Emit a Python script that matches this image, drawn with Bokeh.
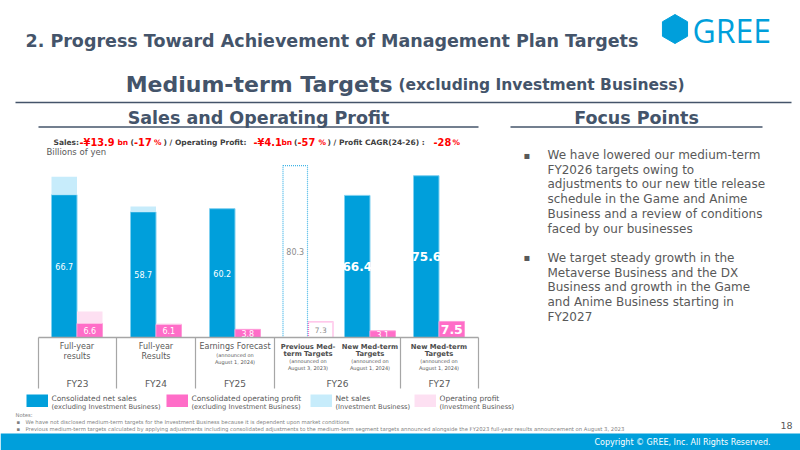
import math
from bokeh.plotting import figure
from bokeh.models import Range1d, Label, ColumnDataSource
from bokeh.embed import file_html
from bokeh.resources import INLINE
from bokeh.core.properties import value

# ---------------- data ----------------
slot_names = ["FY23 results", "FY24 results", "FY25 forecast",
              "FY26 previous target", "FY26 new target", "FY27 new target"]
net_sales = [66.7, 58.7, 60.2, 80.3, 66.4, 75.6]
op_profit = [6.6, 6.1, 3.8, 7.3, 3.1, 7.5]
inv_net_sales = [8.4, 2.5, 0.0, 0.0, 0.0, 0.0]
inv_op_profit = [5.5, 0.4, 0.0, 0.0, 0.0, 0.0]
fiscal_years = ["FY23", "FY24", "FY25", "FY26", "FY27"]
slot_title = [["Full-year", "results"], ["Full-year", "Results"], ["Earnings Forecast"],
              ["Previous Med-", "term Targets"], ["New Med-term", "Targets"], ["New Med-term", "Targets"]]
slot_note = [[], [], ["(announced on", "August 1, 2024)"], ["(announced on", "August 3, 2023)"],
             ["(announced on", "August 1, 2024)"], ["(announced on", "August 1, 2024)"]]
legend_items = [("Consolidated net sales", "(excluding Investment Business)"),
                ("Consolidated operating profit", "(excluding Investment Business)"),
                ("Net sales", "(Investment Business)"),
                ("Operating profit", "(Investment Business)")]
focus_points = [["We have lowered our medium-term", "FY2026 targets owing to",
                 "adjustments to our new title release", "schedule in the Game and Anime",
                 "Business and a review of conditions", "faced by our businesses"],
                ["We target steady growth in the", "Metaverse Business and the DX",
                 "Business and growth in the Game", "and Anime Business starting in", "FY2027"]]
notes = ["We have not disclosed medium-term targets for the Investment Business because it is dependent upon market conditions",
         "Previous medium-term targets calculated by applying adjustments including consolidated adjustments to the medium-term segment targets announced alongside the FY2023 full-year results announcement on August 3, 2023"]
subtitle_parts = [("Sales:", "d"), ("-¥13.9", "R"), ("bn", "r"), ("(", "d"), ("-17", "R"), ("%", "r"),
                  (") / Operating Profit:", "d"), ("-¥4.1", "R"), ("bn", "r"), ("(", "d"), ("-57", "R"),
                  ("%", "r"), (") / Profit CAGR(24-26) :", "d"), ("-28", "R"), ("%", "r")]

# ---------------- layout / styles ----------------
W, H = 800, 450
BASE = 337.0      # pixel row of zero
S = 2.14          # pixels per billion yen
def Y(py):
    return (BASE - py) / S

slot_x = [76.5, 155.5, 234.5, 307.5, 369.5, 438.5]
group_edges = [38, 116, 195, 274, 400, 478]
BW = 25.5
target_prev = 3
subtitle_x = [53, 79, 117, 130, 133.5, 153.5, 163, 253, 281, 293.5, 297, 318, 327, 433, 452]

BLUE = "#009fdb"
PINK = "#ff6dc8"
LBLUE = "#c7ecfb"
LPINK = "#fde0f2"
TITLE = "#44546a"
GRAY = "#595959"
FONT = "DejaVu Sans"

p = figure(width=W, height=H, x_range=Range1d(0, W), y_range=Range1d(Y(H), Y(0)),
           output_backend="svg", toolbar_location=None, min_border=0,
           x_axis_type=None, y_axis_type=None)
p.grid.visible = False
p.outline_line_color = None
p.background_fill_color = "white"
p.border_fill_color = "white"

def txt(x, py, s, size, color=GRAY, bold=False, align="left", baseline="middle", font=FONT):
    p.add_layout(Label(x=x, y=Y(py), text=s, text_font=font, text_font_size=f"{size}px",
                       text_color=color, text_font_style="bold" if bold else "normal",
                       text_align=align, text_baseline=baseline))

# ---------------- header ----------------
txt(25, 40, "2. Progress Toward Achievement of Management Plan Targets", 17.5, TITLE, bold=True)
p.scatter(x=[674.5], y=[Y(28.5)], marker="hex", size=29, angle=math.pi / 2,
          fill_color=BLUE, line_color=BLUE)
txt(692, 29.5, "GREE", 32, BLUE, font="Open Sans")
txt(392, 84, "Medium-term Targets", 22, TITLE, bold=True, align="right", baseline="alphabetic")
txt(398, 84, "(excluding Investment Business)", 15.5, TITLE, bold=True, baseline="alphabetic")
p.segment(x0=[15], x1=[791], y0=[Y(102)], y1=[Y(102)], line_color=TITLE, line_width=1.5)

txt(258, 117, "Sales and Operating Profit", 17.5, TITLE, bold=True, align="center")
txt(636, 117, "Focus Points", 17.5, TITLE, bold=True, align="center")
p.segment(x0=[38, 510], x1=[478, 762], y0=[Y(126.5)] * 2, y1=[Y(126.5)] * 2,
          line_color=TITLE, line_width=1.5)

# subtitle with mixed styles
for (s, kind), x in zip(subtitle_parts, subtitle_x):
    if kind == "d":
        txt(x, 141.5, s, 7.5, "#404040", bold=True, baseline="alphabetic")
    elif kind == "R":
        txt(x, 141.5, s, 9.8, "#ff0000", bold=True, baseline="alphabetic")
    else:
        txt(x, 141.5, s, 7.5, "#ff0000", bold=True, baseline="alphabetic")
txt(46, 151, "Billions of yen", 8.5, GRAY)

# ---------------- bars ----------------
solid = [i for i in range(len(net_sales)) if i != target_prev]
sx = [slot_x[i] - BW / 2 for i in range(len(net_sales))]
ox = [slot_x[i] + BW / 2 for i in range(len(net_sales))]

p.vbar(x=[sx[i] for i in solid], width=BW, bottom=0, top=[net_sales[i] for i in solid],
       fill_color=BLUE, line_color="#7fd0f0", line_width=1)
p.vbar(x=[sx[i] for i in solid], width=BW, bottom=[net_sales[i] for i in solid],
       top=[net_sales[i] + inv_net_sales[i] for i in solid],
       fill_color=LBLUE, line_color=None)
p.vbar(x=[ox[i] for i in solid], width=BW, bottom=0, top=[op_profit[i] for i in solid],
       fill_color=PINK, line_color="#ff9ad8", line_width=1)
p.vbar(x=[ox[i] for i in solid], width=BW, bottom=[op_profit[i] for i in solid],
       top=[op_profit[i] + inv_op_profit[i] for i in solid],
       fill_color=LPINK, line_color=None)
# previous targets: dotted outlines
p.vbar(x=[sx[target_prev]], width=BW - 1, bottom=0, top=[net_sales[target_prev]],
       fill_color="white", line_color="#3fb4e6", line_dash="1 1", line_width=1.2)
p.vbar(x=[ox[target_prev]], width=BW - 1, bottom=0, top=[op_profit[target_prev]],
       fill_color="white", line_color="#ff6dc8", line_dash="1 1", line_width=1.2)

# value labels
sales_style = [("8px", "normal", "white")] * 3 + [("8px", "normal", "#8c8c8c")] + [("12px", "bold", "white")] * 2
op_style = [("8px", "normal", "white")] * 3 + [("7.5px", "normal", "#8c8c8c"), ("8px", "normal", "white"), ("12.5px", "bold", "white")]
for i in range(len(net_sales)):
    fs, fw, fc = sales_style[i]
    p.text(x=[sx[i]], y=[net_sales[i] / 2], text=[f"{net_sales[i]:.1f}"], text_font=value(FONT),
           text_font_size=fs, text_font_style=fw, text_color=fc,
           text_align="center", text_baseline="middle")
    fs, fw, fc = op_style[i]
    p.text(x=[ox[i]], y=[op_profit[i] / 2], text=[f"{op_profit[i]:.1f}"], text_font=value(FONT),
           text_font_size=fs, text_font_style=fw, text_color=fc,
           text_align="center", text_baseline="middle")

# ---------------- category table ----------------
p.segment(x0=[group_edges[0]], x1=[group_edges[-1]], y0=[0], y1=[0], line_color="#a6a6a6", line_width=1.5)
p.segment(x0=group_edges, x1=group_edges, y0=[0] * len(group_edges), y1=[Y(388)] * len(group_edges),
          line_color="#a6a6a6", line_width=1.2)

for i, lines in enumerate(slot_title):
    bold = i >= 3
    step = 7.5 if bold else 10
    for j, s in enumerate(lines):
        txt(slot_x[i], 346 + j * step, s, 6.8 if bold else 8, "#4d4d4d" if bold else GRAY,
            bold=bold, align="center")
    start = 360 if bold else 354
    for j, s in enumerate(slot_note[i]):
        txt(slot_x[i], start + j * 7, s, 5, GRAY, align="center")

for k, fy in enumerate(fiscal_years):
    cx = (group_edges[k] + group_edges[k + 1]) / 2
    txt(cx, 383, fy, 9, GRAY, align="center")

# ---------------- legend ----------------
leg_box_x = [26, 166, 310, 414]
leg_colors = [BLUE, PINK, LBLUE, LPINK]
for (l1, l2), bx, c in zip(legend_items, leg_box_x, leg_colors):
    p.quad(left=[bx], right=[bx + 21.5], top=[Y(394)], bottom=[Y(406.5)], fill_color=c, line_color=None)
    txt(bx + 25, 397.5, l1, 7.5, GRAY)
    txt(bx + 25, 406.5, l2, 6.7, GRAY)

# ---------------- notes ----------------
txt(15, 414, "Notes:", 5.3, "#7f7f7f")
for j, s in enumerate(notes):
    txt(16, 421 + j * 7, "▪", 5.3, "#7f7f7f")
    txt(25, 421 + j * 7, s, 5.3, "#7f7f7f")

# ---------------- focus points ----------------
row = 154.5
for block in focus_points:
    txt(523, row, "▪", 10, GRAY)
    for s in block:
        txt(547, row, s, 12, GRAY)
        row += 14.7
    row += 14.7

# ---------------- footer ----------------
txt(792, 425, "18", 9.5, GRAY, align="right")
p.quad(left=[0], right=[W], top=[Y(433)], bottom=[Y(H)], fill_color=BLUE, line_color=None)
txt(770, 442, "Copyright © GREE, Inc. All Rights Reserved.", 8, "white", align="right")

open("out.html", "w").write(file_html(p, INLINE))
